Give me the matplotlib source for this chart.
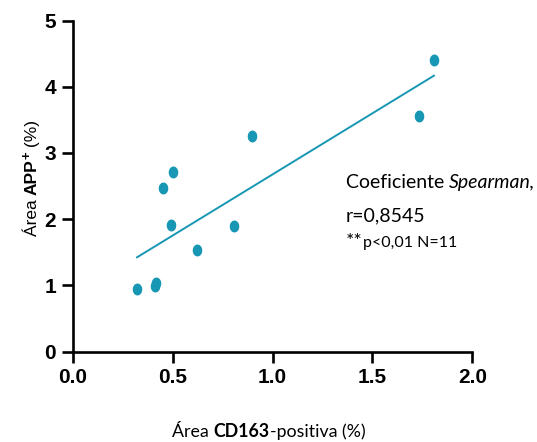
import matplotlib
matplotlib.use("Agg")
import matplotlib.pyplot as plt
from matplotlib.path import Path
import numpy as np

# data
cd163 = [0.322, 0.412, 0.418, 0.453, 0.502, 0.490, 0.621, 0.806, 0.897, 1.735, 1.807]
app = [0.947, 0.99, 1.03, 2.47, 2.71, 1.92, 1.535, 1.90, 3.26, 3.56, 4.40]
fit_x = [0.322, 1.808]
fit_y = [1.425, 4.167]

x_ticks = [0.0, 0.5, 1.0, 1.5, 2.0]
y_ticks = [0, 1, 2, 3, 4, 5]

TEAL = '#1797b4'
W, H = 537, 442
TICK_FONT = ['Liberation Sans', 'DejaVu Sans']
CAL = ['Lato', 'DejaVu Sans']
ARIAL = ['Liberation Sans', 'DejaVu Sans']

fig = plt.figure(figsize=(W / 100, H / 100), dpi=100)
ax = fig.add_axes([72.7 / W, 1 - 351.7 / H, (472.3 - 72.7) / W, (351.7 - 20.5) / H])

# slightly tall oval marker like the original
t = np.linspace(0, 2 * np.pi, 40)
oval = Path(np.column_stack([0.8 * np.cos(t), np.sin(t)]), closed=True)

ax.plot(fit_x, fit_y, color=TEAL, linewidth=1.4, clip_on=False)
ax.plot(cd163, app, linestyle='none', marker=oval, markersize=8.6,
        color=TEAL, markeredgewidth=0, clip_on=False)

ax.set_xlim(0, 2)
ax.set_ylim(0, 5)
ax.set_xticks(x_ticks)
ax.set_yticks(y_ticks)
ax.set_xticklabels(['%.1f' % v for v in x_ticks])
ax.set_yticklabels([str(v) for v in y_ticks])
for s in ['top', 'right']:
    ax.spines[s].set_visible(False)
for s in ['left', 'bottom']:
    ax.spines[s].set_linewidth(1.9)
ax.tick_params(width=1.9, length=8, direction='out', pad=4)
for lab in ax.get_xticklabels() + ax.get_yticklabels():
    lab.set_fontfamily(TICK_FONT)
    lab.set_fontweight('bold')
    lab.set_fontsize(15)

fig.canvas.draw()
r = fig.canvas.get_renderer()


def fx(px):
    return px / W


def fy(py):
    return 1 - py / H


def row(parts, x, y, ha='left'):
    # parts: (text, props, dy) laid out left to right on one baseline
    objs = []
    for s, props, dy in parts:
        objs.append((fig.text(0, 0, s, va='baseline', ha='left', **props), dy))
    widths = [o.get_window_extent(r).width for o, _ in objs]
    total = sum(widths)
    cur = x - total / 2 if ha == 'center' else x
    for (o, dy), w in zip(objs, widths):
        o.set_position((fx(cur), fy(y - dy)))
        cur += w


def col(parts, x, y):
    # rotated label, centred on y, reading bottom to top
    objs = []
    for s, props, dx in parts:
        objs.append((fig.text(0, 0, s, rotation=90, rotation_mode='anchor',
                              va='baseline', ha='left', **props), dx))
    lens = [o.get_window_extent(r).height for o, _ in objs]
    cur = y + sum(lens) / 2
    for (o, dx), ln in zip(objs, lens):
        o.set_position((fx(x - dx), fy(cur)))
        cur -= ln


row([('Área ', dict(family=CAL, size=12.8), 0),
     ('CD163', dict(family=CAL, size=12.8, weight='bold'), 0),
     ('-positiva (%)', dict(family=CAL, size=12.8), 0)], 269, 437, ha='center')

col([('Área ', dict(family=ARIAL, size=12.5), 0),
     ('APP', dict(family=ARIAL, size=12.5, weight='bold'), 0),
     ('+', dict(family=ARIAL, size=9.5, weight='bold'), 6),
     (' (%)', dict(family=ARIAL, size=12.5), 0)], 37, 178)

row([('Coeficiente ', dict(family=CAL, size=14), 0),
     ('Spearman,', dict(family=CAL, size=14, style='italic'), 0)], 346, 188)
row([('r=0,8545', dict(family=CAL, size=14), 0)], 346, 221)
row([('**', dict(family=CAL, size=14), 0),
     ('p<0,01 N=11', dict(family=CAL, size=11.5), 0)], 346, 247)

fig.savefig('out.png', dpi=100)
